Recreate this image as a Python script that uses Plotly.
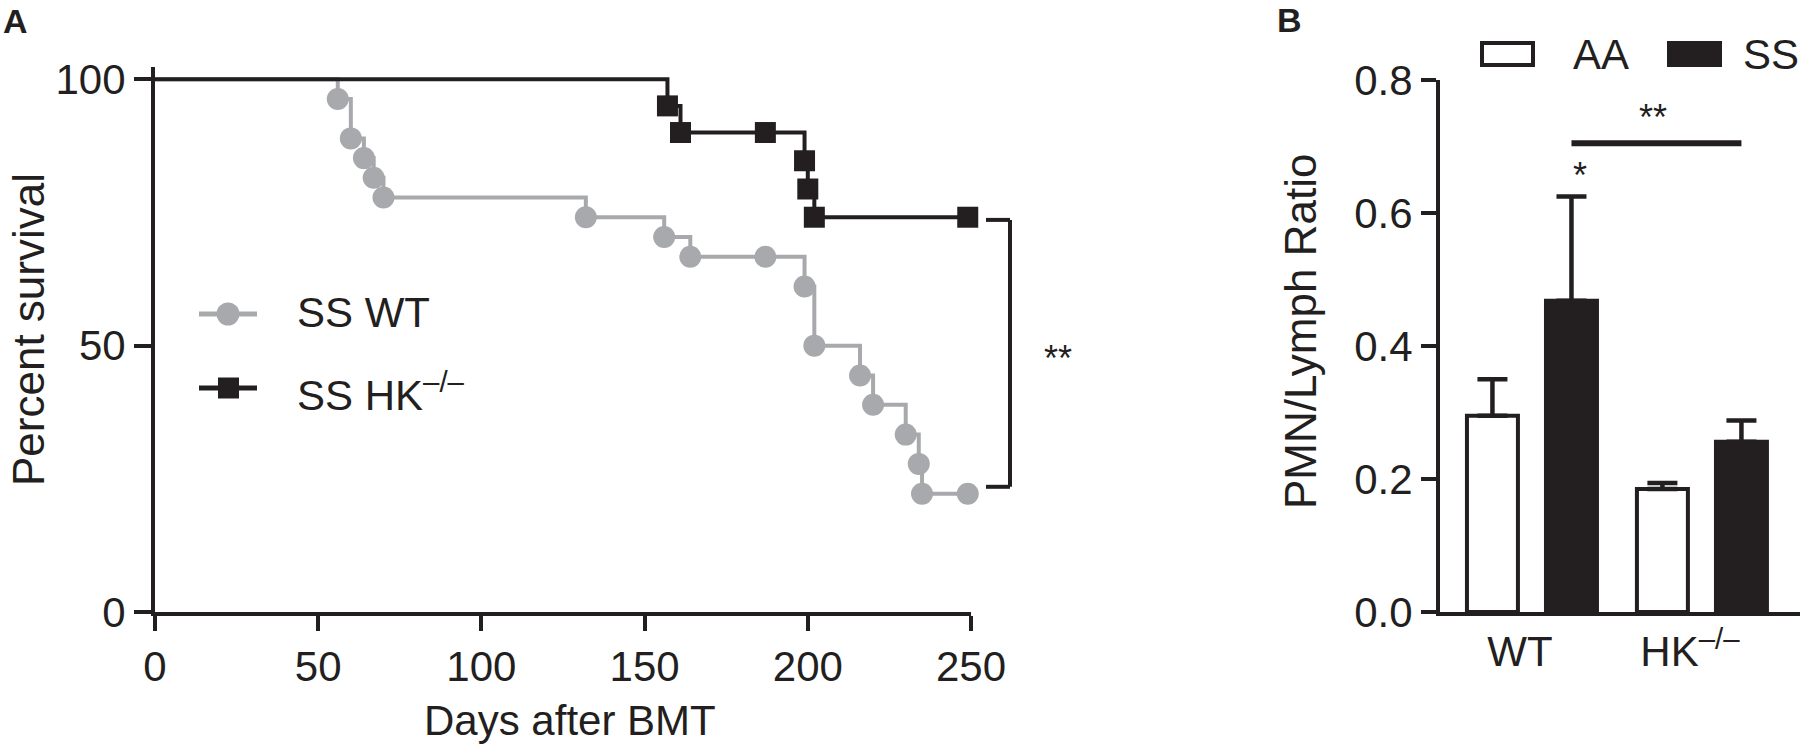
import plotly.graph_objects as go

# ---------------- data ----------------
# Panel A: Kaplan-Meier survival (percent) after BMT
wt_days = [56, 60, 64, 67, 70, 132, 156, 164, 187, 199, 202, 216, 220, 230, 234, 235, 249]
wt_surv = [96.3, 88.9, 85.2, 81.5, 77.8, 74.1, 70.4, 66.7, 66.7, 61.1, 50.0, 44.4, 38.9, 33.3, 27.8, 22.2, 22.2]
hk_days = [157, 161, 187, 199, 200, 202, 249]
hk_surv = [95.0, 90.0, 90.0, 84.7, 79.4, 74.1, 74.1]
series_names = ["SS WT", "SS HK<sup>–/–</sup>"]
x_ticks_a = [0, 50, 100, 150, 200, 250]
y_ticks_a = [0, 50, 100]

# Panel B: PMN/Lymph ratio
groups = ["WT", "HK<sup>–/–</sup>"]
aa_mean = [0.295, 0.185]
aa_sem = [0.055, 0.009]
ss_mean = [0.468, 0.256]
ss_sem = [0.157, 0.032]
y_ticks_b = [0.0, 0.2, 0.4, 0.6, 0.8]

# ---------------- styling helpers ----------------
W, H = 1800, 746
BLACK = "#231f20"
GRAY = "#a7a9ac"
FONT = "Liberation Sans, Arial, Helvetica, sans-serif"


def px(x):
    return x / W


def py(y):
    return 1 - y / H


fig = go.Figure()

# survival curves
fig.add_trace(go.Scatter(x=[0] + wt_days, y=[100] + wt_surv, mode="lines",
                         line=dict(color=GRAY, width=4, shape="hv"),
                         xaxis="x", yaxis="y", showlegend=False, cliponaxis=False))
fig.add_trace(go.Scatter(x=wt_days, y=wt_surv, mode="markers",
                         marker=dict(color=GRAY, size=22, symbol="circle", line=dict(width=0)),
                         xaxis="x", yaxis="y", showlegend=False, cliponaxis=False))
fig.add_trace(go.Scatter(x=[0] + hk_days, y=[100] + hk_surv, mode="lines",
                         line=dict(color=BLACK, width=4, shape="hv"),
                         xaxis="x", yaxis="y", showlegend=False, cliponaxis=False))
fig.add_trace(go.Scatter(x=hk_days, y=hk_surv, mode="markers",
                         marker=dict(color=BLACK, size=21, symbol="square", line=dict(width=0)),
                         xaxis="x", yaxis="y", showlegend=False, cliponaxis=False))

# bars
fig.add_trace(go.Bar(x=groups, y=aa_mean, name="AA",
                     marker=dict(color="white", line=dict(color=BLACK, width=4)),
                     error_y=dict(type="data", symmetric=False, array=aa_sem, arrayminus=[0, 0],
                                  color=BLACK, thickness=4.5, width=15),
                     xaxis="x2", yaxis="y2", showlegend=False))
fig.add_trace(go.Bar(x=groups, y=ss_mean, name="SS",
                     marker=dict(color=BLACK, line=dict(color=BLACK, width=4)),
                     error_y=dict(type="data", symmetric=False, array=ss_sem, arrayminus=[0, 0],
                                  color=BLACK, thickness=4.5, width=15),
                     xaxis="x2", yaxis="y2", showlegend=False))

axis_common = dict(showline=True, linecolor=BLACK, linewidth=4, showgrid=False, zeroline=False,
                   ticks="outside", tickcolor=BLACK, tickwidth=4, automargin=False,
                   tickfont=dict(family=FONT, size=42, color=BLACK), fixedrange=True)

fig.update_layout(
    width=W, height=H,
    margin=dict(l=0, r=0, t=0, b=0, pad=0, autoexpand=False),
    paper_bgcolor="white", plot_bgcolor="white",
    barmode="group", bargap=0.07, bargroupgap=0.355,
    font=dict(family=FONT, color=BLACK),
    showlegend=False,
    xaxis=dict(domain=[px(155), px(971)], range=[0, 250], tickvals=x_ticks_a, ticklen=15,
               anchor="y", **axis_common),
    yaxis=dict(domain=[py(612), py(67)], range=[0, 102.3], tickvals=y_ticks_a, ticklen=17,
               anchor="x", **axis_common),
    xaxis2=dict(domain=[px(1440), 1.0], range=[-0.541, 1.577], type="category", anchor="y2",
                ticklabelshift=-12, **{**axis_common, "ticks": ""}),
    yaxis2=dict(domain=[py(612), py(80)], range=[0, 0.8], tickvals=y_ticks_b, tickformat=".1f",
                ticklen=15, anchor="x2", **axis_common),
)

shapes = []
annotations = []

# bracket in panel A
shapes.append(dict(type="line", xref="paper", yref="y", x0=px(986), x1=px(1010), y0=73.6, y1=73.6,
                   line=dict(color=BLACK, width=4)))
shapes.append(dict(type="line", xref="paper", yref="y", x0=px(1010), x1=px(1010), y0=73.6, y1=23.5,
                   line=dict(color=BLACK, width=4)))
shapes.append(dict(type="line", xref="paper", yref="y", x0=px(986), x1=px(1010), y0=23.5, y1=23.5,
                   line=dict(color=BLACK, width=4)))
annotations.append(dict(text="**", xref="paper", yref="y", x=px(1058), y=47.5, showarrow=False,
                        font=dict(size=36, color=BLACK), xanchor="center", yanchor="middle"))

# legend panel A (manual)
shapes.append(dict(type="line", xref="paper", yref="paper", x0=px(199), x1=px(257), y0=py(314), y1=py(314),
                   line=dict(color=GRAY, width=5)))
shapes.append(dict(type="circle", xref="paper", yref="paper", x0=px(216.5), x1=px(239.5),
                   y0=py(325.5), y1=py(302.5), fillcolor=GRAY, line=dict(width=0)))
shapes.append(dict(type="line", xref="paper", yref="paper", x0=px(199), x1=px(257), y0=py(388), y1=py(388),
                   line=dict(color=BLACK, width=5)))
shapes.append(dict(type="rect", xref="paper", yref="paper", x0=px(218), x1=px(239),
                   y0=py(398.5), y1=py(377.5), fillcolor=BLACK, line=dict(width=0)))
annotations.append(dict(text=series_names[0], xref="paper", yref="paper", x=px(295), y=py(312),
                        xanchor="left", yanchor="middle", showarrow=False, font=dict(size=42, color=BLACK)))
annotations.append(dict(text=series_names[1], xref="paper", yref="paper", x=px(295), y=py(392),
                        xanchor="left", yanchor="middle", showarrow=False, font=dict(size=42, color=BLACK)))

# axis titles
annotations.append(dict(text="Percent survival", xref="paper", yref="paper", x=px(28), y=py(330),
                        textangle=-90, xanchor="center", yanchor="middle", showarrow=False,
                        font=dict(size=44, color=BLACK)))
annotations.append(dict(text="Days after BMT", xref="paper", yref="paper", x=px(570), y=py(720),
                        xanchor="center", yanchor="middle", showarrow=False,
                        font=dict(size=42, color=BLACK)))
annotations.append(dict(text="PMN/Lymph Ratio", xref="paper", yref="paper", x=px(1300), y=py(332),
                        textangle=-90, xanchor="center", yanchor="middle", showarrow=False,
                        font=dict(size=44, color=BLACK)))

# panel letters
annotations.append(dict(text="<b>A</b>", xref="paper", yref="paper", x=px(1), y=py(21),
                        xanchor="left", yanchor="middle", showarrow=False, font=dict(size=34, color=BLACK)))
annotations.append(dict(text="<b>B</b>", xref="paper", yref="paper", x=px(1275), y=py(20),
                        xanchor="left", yanchor="middle", showarrow=False, font=dict(size=34, color=BLACK)))

# legend panel B (manual)
shapes.append(dict(type="rect", xref="paper", yref="paper", x0=px(1482), x1=px(1533),
                   y0=py(65), y1=py(43), fillcolor="white", line=dict(color=BLACK, width=4)))
shapes.append(dict(type="rect", xref="paper", yref="paper", x0=px(1667), x1=px(1722),
                   y0=py(67), y1=py(41), fillcolor=BLACK, line=dict(width=0)))
annotations.append(dict(text="AA", xref="paper", yref="paper", x=px(1571), y=py(55),
                        xanchor="left", yanchor="middle", showarrow=False, font=dict(size=42, color=BLACK)))
annotations.append(dict(text="SS", xref="paper", yref="paper", x=px(1741), y=py(55),
                        xanchor="left", yanchor="middle", showarrow=False, font=dict(size=42, color=BLACK)))

# significance in panel B
shapes.append(dict(type="line", xref="x2", yref="y2", x0=0.2325, x1=1.2325, y0=0.705, y1=0.705,
                   line=dict(color=BLACK, width=6)))
annotations.append(dict(text="**", xref="x2", yref="y2", x=0.715, y=0.744, showarrow=False,
                        font=dict(size=36, color=BLACK), xanchor="center", yanchor="middle"))
annotations.append(dict(text="*", xref="x2", yref="y2", x=0.285, y=0.656, showarrow=False,
                        font=dict(size=36, color=BLACK), xanchor="center", yanchor="middle"))

fig.update_layout(shapes=shapes, annotations=annotations)

fig.write_html(
    "out.html",
    config={"displayModeBar": False},
    post_script="document.body.style.margin='0';document.body.style.padding='0';"
                "document.documentElement.style.overflow='hidden';",
)
